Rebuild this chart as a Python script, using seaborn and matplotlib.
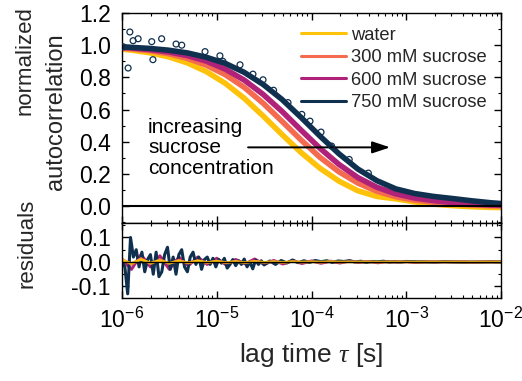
import numpy as np
import pandas as pd
import seaborn as sns
import matplotlib
matplotlib.use("Agg")
import matplotlib.pyplot as plt
from matplotlib.ticker import MultipleLocator, FormatStrFormatter
from matplotlib.lines import Line2D

# ---------------- data ----------------
samples = ["water", "300 mM sucrose", "600 mM sucrose", "750 mM sucrose"]
colors = ["#FFC20A", "#F46B4F", "#B0227A", "#10304F"]

tau = [7.76e-7, 1.23e-6, 1.95e-6, 3.09e-6, 4.90e-6, 7.76e-6, 1.23e-5, 1.95e-5,
       3.09e-5, 4.90e-5, 7.76e-5, 1.23e-4, 1.95e-4, 3.09e-4, 4.90e-4, 7.76e-4,
       1.23e-3, 1.95e-3, 3.09e-3, 4.90e-3, 7.76e-3, 1.23e-2]
g_water = [0.981, 0.970, 0.953, 0.928, 0.890, 0.836, 0.763, 0.670, 0.560, 0.444, 0.333,
           0.235, 0.155, 0.095, 0.060, 0.045, 0.026, 0.012, 0.003, -0.004, -0.008, -0.010]
g_300 = [0.986, 0.978, 0.966, 0.947, 0.918, 0.876, 0.817, 0.738, 0.639, 0.526, 0.411,
         0.303, 0.213, 0.143, 0.092, 0.058, 0.037, 0.024, 0.014, 0.007, 0.002, 0.000]
g_600 = [0.989, 0.983, 0.973, 0.958, 0.935, 0.901, 0.851, 0.783, 0.694, 0.588, 0.472,
         0.359, 0.259, 0.177, 0.117, 0.076, 0.050, 0.034, 0.022, 0.013, 0.007, 0.004]
g_750 = [0.992, 0.987, 0.980, 0.969, 0.952, 0.925, 0.887, 0.831, 0.756, 0.662, 0.551,
         0.435, 0.325, 0.230, 0.158, 0.107, 0.078, 0.060, 0.047, 0.033, 0.021, 0.012]

# scattered raw points of the 750 mM curve that stand out of the band
pts750_tau = [1.03e-6, 1.16e-6, 1.21e-6, 1.31e-6, 1.48e-6, 2.06e-6, 2.12e-6, 2.62e-6,
              3.72e-6, 4.27e-6, 7.52e-6, 1.08e-5, 1.16e-5, 1.76e-5, 2.41e-5, 3.08e-5,
              3.98e-5, 5.65e-5, 7.9e-5, 9.64e-5, 1.26e-4, 1.63e-4, 2.5e-4, 3.98e-4]
pts750_g = [0.99, 0.858, 1.082, 1.028, 1.04, 1.022, 0.91, 1.04, 1.007, 1.0, 0.96, 0.934,
            0.90, 0.878, 0.82, 0.785, 0.72, 0.643, 0.57, 0.528, 0.46, 0.373, 0.29, 0.205]

# residuals
res_logtau = [-6.0, -5.9, -5.8, -5.7, -5.6, -5.5, -5.4, -5.3, -5.2, -5.1, -5.0, -4.9, -4.8,
              -4.7, -4.6, -4.5, -4.4, -4.3, -4.2, -4.1, -4.0, -3.9, -3.8, -3.7, -3.6, -3.5,
              -3.4, -3.3, -3.2, -3.1, -3.0, -2.9, -2.8, -2.7, -2.6, -2.5, -2.4, -2.3, -2.2,
              -2.1, -2.0]
res_water = [0.008, -0.006, 0.010, -0.004, 0.006, -0.005, 0.004, -0.003, 0.005, -0.002,
             0.003, -0.002, 0.002, -0.002, 0.002, -0.001, 0.001, -0.001, 0.001, 0.0, 0.0,
             0.0, 0.001, 0.0, 0.0, 0.0, 0.0, 0.0, 0.0, 0.0, 0.0, 0.0, 0.0, 0.0, 0.0, 0.0,
             0.0, 0.0, 0.0, 0.0, 0.0]
res_300 = [0.012, -0.010, 0.015, -0.008, 0.010, -0.006, 0.008, -0.005, 0.006, -0.004,
           0.005, -0.004, 0.003, -0.003, 0.004, -0.002, 0.002, -0.003, 0.002, -0.001,
           0.002, -0.002, 0.001, -0.001, 0.001, 0.0, 0.001, -0.001, 0.0, 0.001, 0.0,
           -0.001, 0.0, 0.001, 0.0, 0.0, 0.0, -0.001, 0.0, 0.0, 0.0]
res_600 = [0.010, -0.030, 0.030, -0.020, 0.025, -0.030, 0.020, -0.015, 0.020, -0.010,
           0.015, -0.012, 0.010, -0.008, 0.012, -0.010, 0.006, -0.008, 0.005, -0.006,
           0.004, -0.005, 0.003, -0.004, 0.004, -0.002, 0.002, -0.003, 0.002, -0.001,
           0.002, -0.002, 0.001, -0.001, 0.001, 0.0, 0.001, -0.001, 0.0, 0.001, 0.0]
res750_logtau = [-6.00, -5.97, -5.94, -5.91, -5.88, -5.85, -5.82, -5.79, -5.76, -5.73,
                 -5.70, -5.67, -5.64, -5.61, -5.58, -5.55, -5.52, -5.49, -5.46, -5.43,
                 -5.40, -5.37, -5.34, -5.31, -5.28, -5.25, -5.22, -5.19, -5.16, -5.13,
                 -5.10, -5.07, -5.04, -5.01, -4.98, -4.95, -4.92, -4.89, -4.86, -4.83,
                 -4.80, -4.77, -4.74, -4.71, -4.68, -4.65, -4.62, -4.59, -4.56, -4.53,
                 -4.50, -4.44, -4.38, -4.32, -4.26, -4.20, -4.14, -4.08, -4.02, -3.96,
                 -3.90, -3.84, -3.78, -3.72, -3.66, -3.60, -3.54, -3.48, -3.42, -3.36,
                 -3.30, -3.24, -3.18, -3.12, -3.06, -3.00, -2.80, -2.60, -2.40, -2.20, -2.00]
res_750 = [0.00, -0.02, -0.13, 0.10, 0.02, 0.05, -0.02, 0.04, -0.04, 0.01,
           0.03, -0.05, 0.04, -0.06, -0.04, 0.03, 0.06, -0.03, 0.02, -0.05,
           0.03, 0.05, -0.02, -0.04, 0.02, 0.04, -0.01, 0.02, -0.03, 0.01,
           0.02, -0.01, 0.015, -0.02, 0.01, -0.005, 0.015, -0.025, -0.01, 0.01,
           -0.015, 0.005, -0.01, 0.012, -0.02, 0.0, -0.028, 0.008, -0.01, 0.005,
           -0.012, 0.004, -0.010, 0.006, -0.004, 0.008, -0.003, 0.005, -0.002, 0.006,
           0.001, 0.005, -0.002, 0.004, 0.002, 0.005, 0.0, 0.003, -0.002, 0.002,
           0.001, 0.003, -0.001, 0.002, 0.0, 0.002, 0.0, 0.001, -0.001, 0.0, 0.0]

# ---------------- style ----------------
sns.set_theme(style="ticks")
plt.rcParams["font.family"] = ["Liberation Sans", "DejaVu Sans"]
plt.rcParams["mathtext.fontset"] = "custom"
plt.rcParams["mathtext.rm"] = "Liberation Sans"
plt.rcParams["mathtext.it"] = "Liberation Serif:italic"
plt.rcParams["axes.linewidth"] = 1.0
plt.rcParams["axes.edgecolor"] = "black"

W, H = 522, 381
fig = plt.figure(figsize=(W / 100, H / 100), dpi=100)
L, R = 122, 501
ax1 = fig.add_axes([L / W, 1 - 223 / H, (R - L) / W, (223 - 13) / H])
ax2 = fig.add_axes([L / W, 1 - 298 / H, (R - L) / W, (298 - 223) / H], sharex=ax1)
for ax in (ax1, ax2):
    ax.set_xscale("log")

curves = pd.concat([
    pd.DataFrame({"tau": tau, "g": g, "sample": s})
    for s, g in zip(samples, [g_water, g_300, g_600, g_750])
])
pal = dict(zip(samples, colors))
sns.lineplot(data=curves, x="tau", y="g", hue="sample", palette=pal, lw=4.0,
             estimator=None, sort=False, legend=False, ax=ax1)
pts = pd.DataFrame({"tau": pts750_tau, "g": pts750_g})
sns.scatterplot(data=pts, x="tau", y="g", ax=ax1, s=18, facecolor="none",
                edgecolor=colors[3], linewidth=0.9, zorder=4)
ax1.axhline(0, color="black", lw=1.5, zorder=5)

res = pd.concat([
    pd.DataFrame({"tau": 10 ** np.array(res_logtau), "r": r, "sample": s})
    for s, r in zip(samples[:3], [res_water, res_300, res_600])
])
sns.lineplot(data=res[res["sample"] == samples[2]], x="tau", y="r", color=colors[2],
             lw=2.2, estimator=None, sort=False, ax=ax2)
res750 = pd.DataFrame({"tau": 10 ** np.array(res750_logtau), "r": res_750})
sns.lineplot(data=res750, x="tau", y="r", color=colors[3], lw=2.2, estimator=None,
             sort=False, ax=ax2)
for s, c in zip(samples[:2][::-1], colors[:2][::-1]):
    sns.lineplot(data=res[res["sample"] == s], x="tau", y="r", color=c, lw=1.8,
                 estimator=None, sort=False, ax=ax2)
ax2.axhline(0, color="black", lw=1.0, zorder=5)

# axes limits & ticks
ax1.set_xlim(1e-6, 1e-2)
ax1.set_ylim(-0.105, 1.2)
ax2.set_ylim(-0.147, 0.159)
ax1.yaxis.set_major_locator(MultipleLocator(0.2))
ax1.yaxis.set_minor_locator(MultipleLocator(0.1))
ax1.yaxis.set_major_formatter(FormatStrFormatter("%.1f"))
ax2.yaxis.set_major_locator(MultipleLocator(0.1))
ax2.yaxis.set_minor_locator(MultipleLocator(0.05))
ax2.yaxis.set_major_formatter(FormatStrFormatter("%.1f"))
for ax in (ax1, ax2):
    ax.tick_params(which="both", direction="in", top=True, right=True,
                   labelsize=16.5, colors="black")
    ax.tick_params(axis="y", which="both", pad=8)
    ax.tick_params(axis="x", which="both", pad=7)
    ax.tick_params(which="major", length=5, width=1.0)
    ax.tick_params(which="minor", length=2.5, width=0.8)
    ax.set_xlabel("")
    ax.set_ylabel("")
ax1.tick_params(labelbottom=False)

# legend
handles = [Line2D([], [], color=c, lw=2.2) for c in colors]
ax1.legend(handles, samples, loc="upper left", bbox_to_anchor=(0.472, 0.935),
           frameon=False, fontsize=13.2, handlelength=2.45, handletextpad=0.3,
           labelspacing=0.3, borderpad=0, borderaxespad=0)

# annotation
ax1.annotate("", xy=(6.75e-4, 0.365), xytext=(2.14e-5, 0.365),
             arrowprops=dict(arrowstyle="-|>,head_length=0.6,head_width=0.2",
                             color="black", lw=1.4, mutation_scale=18,
                             shrinkA=0, shrinkB=0))
ax1.text(1.88e-6, 0.362, "increasing\nsucrose\nconcentration", ha="left",
         va="center", fontsize=15, linespacing=1.1, color="black")

# axis labels
fig.text(25 / W, 1 - 61 / H, "normalized", rotation=90, ha="center", va="center",
         fontsize=16)
fig.text(56 / W, 1 - 112 / H, "autocorrelation", rotation=90, ha="center",
         va="center", fontsize=17)
fig.text(27 / W, 1 - 243 / H, "residuals", rotation=90, ha="center", va="center",
         fontsize=16)
fig.text(311 / W, 1 - 355 / H, r"lag time $\tau$ [s]", ha="center", va="center",
         fontsize=19)

fig.savefig("out.png", dpi=100)
